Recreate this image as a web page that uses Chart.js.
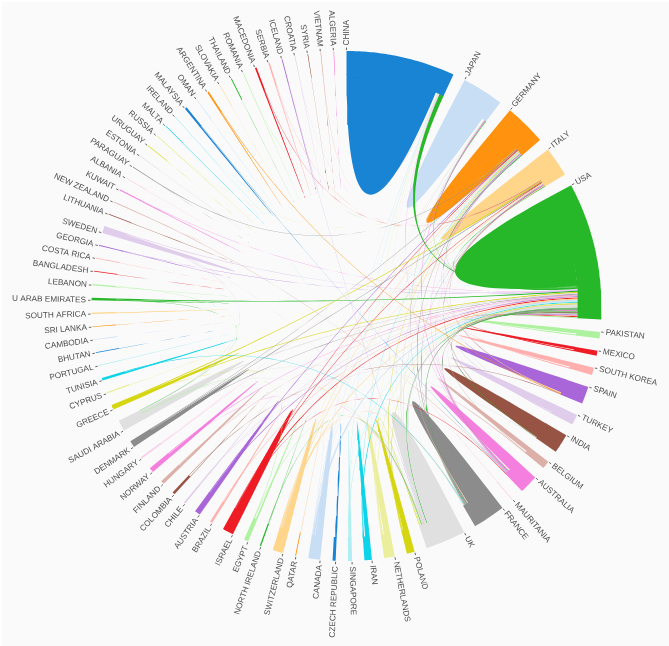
<!DOCTYPE html>
<html>
<head>
<meta charset="utf-8">
<script src="https://cdn.jsdelivr.net/npm/chart.js@4"></script>
<style>
  html, body { margin: 0; background: #fff; }
  #chord { position: absolute; left: 2px; top: 2px; background: #fafafa; }
</style>
</head>
<body>
<canvas id="chord" width="667" height="644"></canvas>
<script>
const countries = ['CHINA','JAPAN','GERMANY','ITALY','USA','PAKISTAN','MEXICO','SOUTH KOREA','SPAIN','TURKEY','INDIA','BELGIUM','AUSTRALIA','MAURITANIA','FRANCE','UK','POLAND','NETHERLANDS','IRAN','SINGAPORE','CZECH REPUBLIC','CANADA','QATAR','SWITZERLAND','NORTH IRELAND','EGYPT','ISRAEL','BRAZIL','AUSTRIA','CHILE','COLOMBIA','FINLAND','NORWAY','HUNGARY','DENMARK','SAUDI ARABIA','GREECE','CYPRUS','TUNISIA','PORTUGAL','BHUTAN','CAMBODIA','SRI LANKA','SOUTH AFRICA','U ARAB EMIRATES','LEBANON','BANGLADESH','COSTA RICA','GEORGIA','SWEDEN','LITHUANIA','NEW ZEALAND','KUWAIT','ALBANIA','PARAGUAY','ESTONIA','URUGUAY','RUSSIA','MALTA','IRELAND','MALAYSIA','OMAN','ARGENTINA','SLOVAKIA','THAILAND','ROMANIA','MACEDONIA','SERBIA','ICELAND','CROATIA','SYRIA','VIETNAM','ALGERIA'];

const totals = [24.8,9.5,9.5,6.8,31.3,1.5,1.1,1.7,4,2.4,4.4,1.8,4.3,.2,7.4,9.2,1.8,2.4,1.7,.9,.7,2.7,.2,2.4,.3,1,2.5,.6,1.3,.4,.6,.8,1.1,.4,1.5,2.5,1.1,.3,.6,.2,.15,.15,.15,.3,.6,.3,.2,.15,.2,1.6,.15,.2,.3,.15,.15,.15,.15,.2,.15,.15,.5,.15,.4,.15,.2,.15,.4,.35,.2,.15,.15,.15,.15];

// what each country shares with itself (the big wedges)
const selfLinks = [22.7,8.4,7.9,5.4,23.2,1,.7,1.2,3.3,2,4,1.2,2.8,.1,6,7.8,1.3,1.6,1.1,.5,.4,1.8,.05,1.6,.1,.4,2.2,.35,1,.2,.12,.6,.8,.2,1.1,2.1,.8,.12,.4,.12,.04,.03,.05,.2,.2,.1,.05,.05,.12,1.2,.1,.05,.2,.08,.02,.1,.04,.15,.1,.1,.35,.08,.2,.05,.05,.1,.3,.2,.15,.1,.04,.08,.03];

const palette = ['#1a84d4','#c8def5','#ff930f','#ffd58a','#27b829','#aef2a0','#ee1c25','#ffb0ae','#a966d8','#e0cdec','#975343','#dcb0a8','#f57fdf','#f9cfe8','#8c8c8c','#e0e0e0','#d5d610','#ebee9c','#0dd4e8','#aeeef2'];

// [country giving the colour, partner, width at first, width at partner]
const links = [
  ['UK','USA',.9],['ISRAEL','USA',.28],['MEXICO','USA',.25],['GREECE','USA',.25],['IRAN','USA',.25],['U ARAB EMIRATES','USA',.3],
  ['PAKISTAN','USA',.25],['SOUTH KOREA','USA',.25],['SPAIN','USA',.2],['TURKEY','USA',.25],['INDIA','USA',.18],['AUSTRALIA','USA',.25],
  ['FRANCE','USA',.3],['CANADA','USA',.4],['BRAZIL','USA',.15],['AUSTRIA','USA',.18],['SAUDI ARABIA','USA',.3],['DENMARK','USA',.15],
  ['SWEDEN','USA',.2],['NETHERLANDS','USA',.2],['SWITZERLAND','USA',.25],['CHILE','USA',.12],['SINGAPORE','USA',.15],['BELGIUM','USA',.15],
  ['FINLAND','USA',.12],['NORWAY','USA',.15],['POLAND','USA',.15],['KUWAIT','USA',.08],['GEORGIA','USA',.07],['IRELAND','USA',.05],
  ['USA','CHINA',.45,1.1],['USA','JAPAN',.18],['USA','GERMANY',.2],['USA','ITALY',.18],['USA','FRANCE',.12],['USA','AUSTRALIA',.12],
  ['USA','INDIA',.12],['USA','UK',.15],
  ['UK','GERMANY',.3],['FRANCE','GERMANY',.18],['PARAGUAY','GERMANY',.13],['POLAND','GERMANY',.15],['AUSTRIA','GERMANY',.2],
  ['DENMARK','GERMANY',.12],['ISRAEL','GERMANY',.15],['TURKEY','GERMANY',.12],['IRAN','GERMANY',.08],['AUSTRALIA','GERMANY',.12],
  ['SWITZERLAND','GERMANY',.15],['NETHERLANDS','GERMANY',.09],['CANADA','GERMANY',.09],['SPAIN','GERMANY',.09],['HUNGARY','GERMANY',.06],['RUSSIA','GERMANY',.05],
  ['GREECE','ITALY',.25],['UK','ITALY',.2],['DENMARK','ITALY',.18],['ISRAEL','ITALY',.18],['INDIA','ITALY',.12],['FRANCE','ITALY',.12],
  ['SPAIN','ITALY',.12],['SWITZERLAND','ITALY',.15],['AUSTRALIA','ITALY',.09],['ROMANIA','ITALY',.05],['SERBIA','ITALY',.08],['CROATIA','ITALY',.05],['MACEDONIA','ITALY',.08],
  ['AUSTRALIA','JAPAN',.2],['UK','JAPAN',.09],['FRANCE','JAPAN',.08],['CANADA','JAPAN',.08],['SWITZERLAND','JAPAN',.05],
  ['NETHERLANDS','CHINA',.09],['UK','CHINA',.07],['AUSTRALIA','CHINA',.07],['CANADA','CHINA',.09],['VIETNAM','CHINA',.07],['SINGAPORE','CHINA',.1],
  ['POLAND','UK',.15],['NETHERLANDS','UK',.2],['SWITZERLAND','UK',.18],['IRELAND','UK',.05],['GREECE','UK',.07],['SINGAPORE','UK',.09],
  ['SWEDEN','UK',.07],['NORWAY','UK',.07],['EGYPT','UK',.12],['SAUDI ARABIA','UK',.12],['NORTH IRELAND','UK',.1],['ICELAND','UK',.05],
  ['TUNISIA','FRANCE',.15],['BELGIUM','FRANCE',.18],['SWITZERLAND','FRANCE',.12],['CANADA','FRANCE',.12],
  ['ISRAEL','AUSTRALIA',.12],['NEW ZEALAND','AUSTRALIA',.12],['MALAYSIA','AUSTRALIA',.08],['SAUDI ARABIA','INDIA',.12],
  ['ARGENTINA','SPAIN',.15],['CHILE','SPAIN',.08],['COLOMBIA','SPAIN',.09],['ITALY','SPAIN',.15],
  ['SWEDEN','SAUDI ARABIA',.12],['U ARAB EMIRATES','SAUDI ARABIA',.08],['EGYPT','SAUDI ARABIA',.15],['LEBANON','SAUDI ARABIA',.07],['CANADA','SWITZERLAND',.07]
];

const outerR = 255, innerR = 232;
const gap = (360 - totals.reduce((a, b) => a + b, 0)) / countries.length;

const toRad = (deg) => deg * Math.PI / 180;
const polar = (deg, r) => ({ x: r * Math.sin(toRad(deg)), y: r * Math.cos(toRad(deg)) });

// start angle of every group
const starts = [];
let at = 0;
totals.forEach((t) => { starts.push(at); at += t + gap; });

// each end of a link gets its own slice at the end of the group arc
const ends = countries.map(() => []);
links.forEach((l, i) => {
  const a = countries.indexOf(l[0]), b = countries.indexOf(l[1]);
  const wb = l[3] === undefined ? l[2] : l[3];
  ends[a].push({ link: i, other: b, w: l[2] });
  ends[b].push({ link: i, other: a, w: wb });
});
const slices = {};
ends.forEach((list, g) => {
  // far partners first, so that ribbons leaving one group do not twist
  list.sort((p, q) => ((q.other - g + 73) % 73) - ((p.other - g + 73) % 73));
  let pos = starts[g] + totals[g] - list.reduce((s, e) => s + e.w, 0);
  list.forEach((e) => {
    slices[e.link + ':' + e.other] = [pos, pos + e.w];
    pos += e.w;
  });
});

function arcPoints(a0, a1, r) {
  const pts = [];
  const n = Math.max(2, Math.ceil(Math.abs(a1 - a0) * 2));
  for (let i = 0; i <= n; i++) pts.push(polar(a0 + (a1 - a0) * i / n, r));
  return pts;
}

// quadratic curve with its control point on the centre of the circle
function throughCentre(a0, a1) {
  const p0 = polar(a0, innerR), p1 = polar(a1, innerR);
  const pts = [];
  for (let i = 1; i < 40; i++) {
    const t = i / 40;
    pts.push({ x: (1 - t) * (1 - t) * p0.x + t * t * p1.x, y: (1 - t) * (1 - t) * p0.y + t * t * p1.y });
  }
  return pts;
}

function shape(points, color) {
  points.push(points[0]);
  return { data: points, showLine: true, fill: 'shape', backgroundColor: color, borderWidth: 0, pointRadius: 0, pointHoverRadius: 0 };
}

const groupColor = (g) => palette[g % palette.length];
const painted = [];

selfLinks.forEach((w, g) => {
  const a0 = starts[g], a1 = a0 + w;
  painted.push(shape([...arcPoints(a0, a1, innerR), ...throughCentre(a1, a0)], groupColor(g)));
});

links.forEach((l, i) => {
  const a = countries.indexOf(l[0]), b = countries.indexOf(l[1]);
  const sa = slices[i + ':' + b], sb = slices[i + ':' + a];
  painted.push(shape([
    ...arcPoints(sa[0], sa[1], innerR), ...throughCentre(sa[1], sb[0]),
    ...arcPoints(sb[0], sb[1], innerR), ...throughCentre(sb[1], sa[0])
  ], groupColor(a)));
});

totals.forEach((t, g) => {
  const a0 = starts[g], a1 = a0 + t;
  // ring goes a little under the ribbons' ends so no seam shows
  painted.push(shape([...arcPoints(a0, a1, outerR), ...arcPoints(a1, a0, innerR - 0.7)], groupColor(g)));
});

const labelPlugin = {
  id: 'countryLabels',
  afterDraw(chart) {
    const { ctx, scales: { x, y } } = chart;
    ctx.save();
    ctx.font = '8.2px "Liberation Sans", sans-serif';
    ctx.fillStyle = '#4d4d4d';
    ctx.strokeStyle = '#666';
    ctx.lineWidth = 1;
    ctx.textBaseline = 'middle';
    countries.forEach((name, g) => {
      const a = starts[g];
      const p0 = polar(a, outerR + 1), p1 = polar(a, outerR + 3.5), p2 = polar(a, outerR + 5.5);
      ctx.beginPath();
      ctx.moveTo(x.getPixelForValue(p0.x), y.getPixelForValue(p0.y));
      ctx.lineTo(x.getPixelForValue(p1.x), y.getPixelForValue(p1.y));
      ctx.stroke();
      ctx.save();
      ctx.translate(x.getPixelForValue(p2.x), y.getPixelForValue(p2.y));
      if (a < 180) {
        ctx.rotate(toRad(a - 90));
        ctx.textAlign = 'left';
      } else {
        ctx.rotate(toRad(a + 90));
        ctx.textAlign = 'right';
      }
      ctx.fillText(name, 0, 0);
      ctx.restore();
    });
    ctx.restore();
  }
};

new Chart(document.getElementById('chord').getContext('2d'), {
  type: 'scatter',
  data: { datasets: painted.reverse() },
  options: {
    responsive: false,
    animation: false,
    events: [],
    layout: { padding: 0 },
    plugins: { legend: { display: false }, tooltip: { enabled: false } },
    scales: {
      x: { display: false, min: -344.5, max: 322.5 },
      y: { display: false, min: -340, max: 304 }
    }
  },
  plugins: [labelPlugin]
});
</script>
</body>
</html>
